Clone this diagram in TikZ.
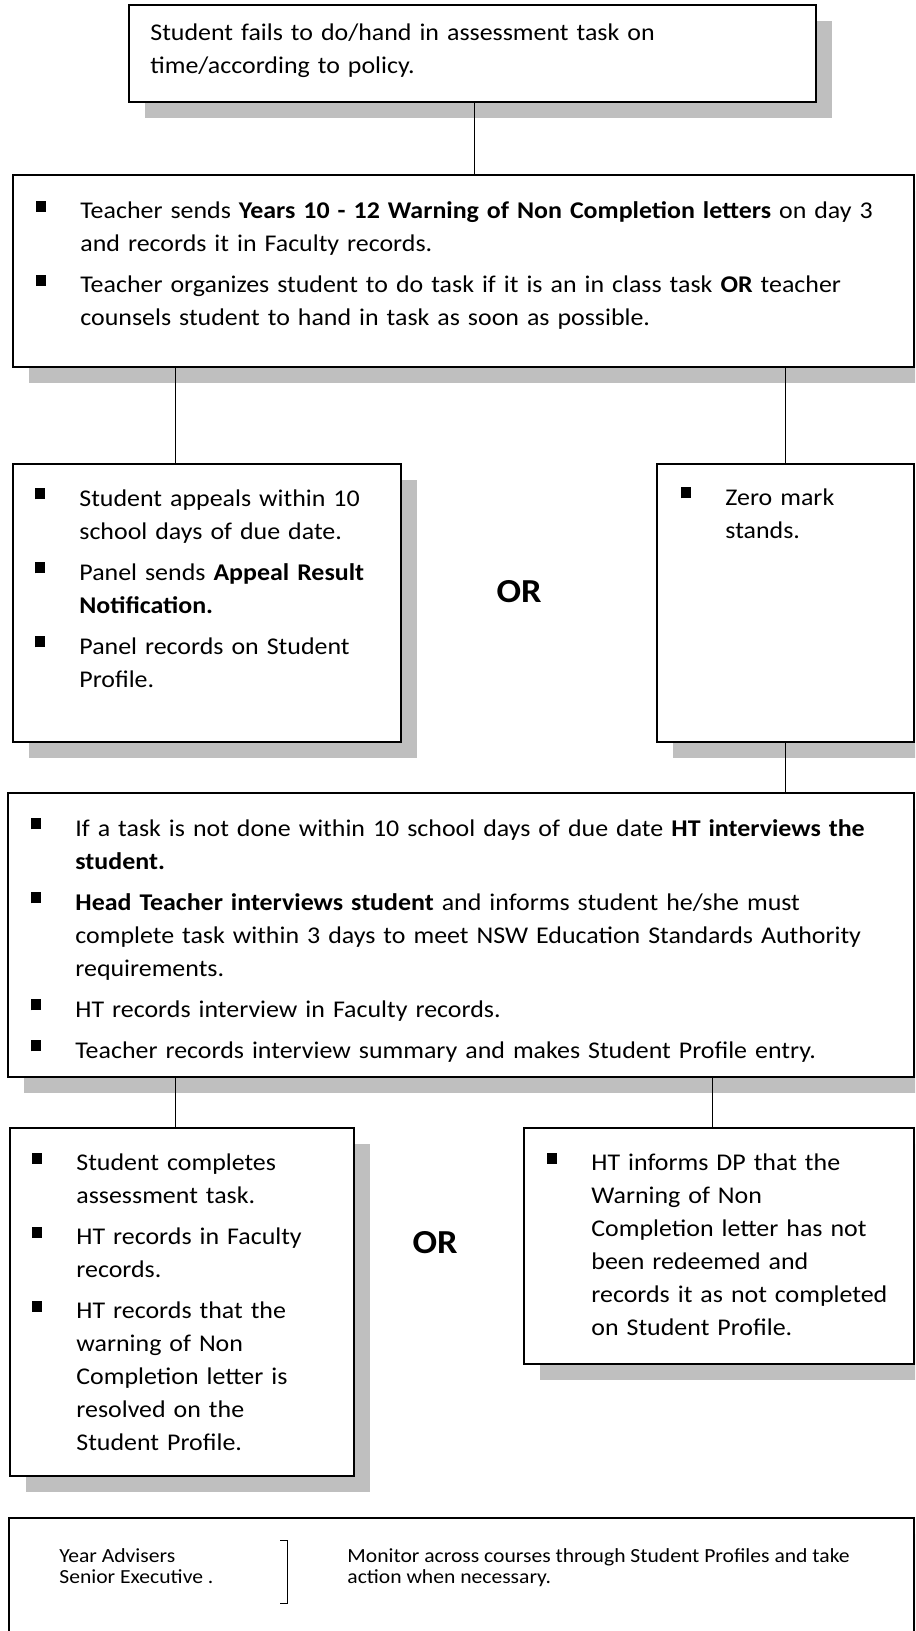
\documentclass[tikz,border=0pt]{standalone}
\usepackage{fontspec}
\setmainfont{Carlito}[FakeStretch=1.08]
\usetikzlibrary{shadows}

\definecolor{shadowgray}{RGB}{191,191,191}

% square bullet with hanging indent
\newcommand{\bul}{\hangindent=22pt\makebox[22pt][l]{\raisebox{3.5pt}{\rule{5pt}{5.5pt}}}\rule{0pt}{12pt}}
\newcommand{\blt}{\par\noindent\bul}
\newcommand{\fst}{\rule{0pt}{12pt}}

\tikzset{
    flowbox/.style={draw, line width=0.8pt, fill=white, inner sep=0pt, anchor=north west,
        drop shadow={shadow xshift=8pt, shadow yshift=-8pt, fill=shadowgray, opacity=1}},
    boxtext/.style={anchor=north west, inner sep=0pt, text width=#1,
        font=\fontsize{12}{16.5}\selectfont\setlength{\parskip}{4pt}\raggedright},
    smalltext/.style={anchor=north west, inner sep=0pt, align=left,
        font=\fontsize{10}{10.6}\selectfont},
    ortext/.style={font=\fontsize{16.8}{20}\selectfont\bfseries, inner sep=0pt},
    link/.style={line width=0.5pt}
}

\begin{document}
\begin{tikzpicture}[x=0.5pt, y=-0.5pt]
    \useasboundingbox (0,0) rectangle (915,1631);
    \clip (0,0) rectangle (915,1631);

    % boxes
    \node[flowbox, minimum width=343.5pt, minimum height=48.5pt] (start) at (128,4) {};
    \node[flowbox, minimum width=450.5pt, minimum height=96pt] (notice) at (12,174) {};
    \node[flowbox, minimum width=194pt, minimum height=139pt] (appeal) at (12,463) {};
    \node[flowbox, minimum width=128.5pt, minimum height=139pt] (zero) at (656,463) {};
    \node[flowbox, minimum width=453pt, minimum height=142pt] (interview) at (7,792) {};
    \node[flowbox, minimum width=172pt, minimum height=174pt] (complete) at (9,1127) {};
    \node[flowbox, minimum width=195pt, minimum height=118pt] (notdone) at (523,1127) {};
    \node[flowbox, minimum width=452.5pt, minimum height=100pt] (monitor) at (8,1517) {};

    % texts
    \node[boxtext=330pt] (starttxt) at (150,16.5)
        {\fst Student fails to do/hand in assessment task on\newline time/according to policy.};
    \node[boxtext=440pt] (noticetxt) at (36,194.5) {%
        \bul Teacher sends \textbf{Years 10 - 12 Warning of Non Completion letters} on day 3\newline and records it in Faculty records.
        \blt Teacher organizes student to do task if it is an in class task \textbf{OR} teacher\newline counsels student to hand in task as soon as possible.\par};
    \node[boxtext=185pt] (appealtxt) at (35,482) {%
        \bul Student appeals within 10\newline school days of due date.
        \blt Panel sends \textbf{Appeal Result}\newline \textbf{Notification.}
        \blt Panel records on Student\newline Profile.\par};
    \node[boxtext=115pt] (zerotxt) at (681,481) {%
        \bul Zero mark\newline stands.\par};
    \node[boxtext=445pt] (interviewtxt) at (31,812) {%
        \bul If a task is not done within 10 school days of due date \textbf{HT interviews the}\newline \textbf{student.}
        \blt \textbf{Head Teacher interviews student} and informs student he/she must\newline complete task within 3 days to meet NSW Education Standards Authority\newline requirements.
        \blt HT records interview in Faculty records.
        \blt Teacher records interview summary and makes Student Profile entry.\par};
    \node[boxtext=165pt] (completetxt) at (32,1146.5) {%
        \bul Student completes\newline assessment task.
        \blt HT records in Faculty\newline records.
        \blt HT records that the\newline warning of Non\newline Completion letter is\newline resolved on the\newline Student Profile.\par};
    \node[boxtext=185pt] (notdonetxt) at (547,1146.5) {%
        \bul HT informs DP that the\newline Warning of Non\newline Completion letter has not\newline been redeemed and\newline records it as not completed\newline on Student Profile.\par};

    \node[ortext] (or1) at (519,592) {OR};
    \node[ortext] (or2) at (435,1243) {OR};

    \node[smalltext] (roles) at (59,1545.7) {\rule{0pt}{8pt}Year Advisers\\ Senior Executive .};
    \node[smalltext] (duty) at (347,1545.7)
        {\rule{0pt}{8pt}Monitor across courses through Student Profiles and take\\ action when necessary.};
    \draw[link] (280,1540.5) -- (287,1540.5) -- (287,1603) -- (280,1603);

    % connectors
    \coordinate (j0) at ([xshift=1.25pt]start.south);
    \coordinate (j1) at ([xshift=-15.5pt]appeal.north);
    \coordinate (j2) at ([xshift=-3pt]complete.north);
    \coordinate (j3) at ([xshift=-3pt]notdone.north);

    \draw[link] (j0) -- (j0 |- notice.north);
    \draw[link] (j1) -- (j1 |- notice.south);
    \draw[link] (zero.north) -- (zero.north |- notice.south);
    \draw[link] (zero.south) -- (zero.south |- interview.north);
    \draw[link] (j2) -- (j2 |- interview.south);
    \draw[link] (j3) -- (j3 |- interview.south);

\end{tikzpicture}
\end{document}
